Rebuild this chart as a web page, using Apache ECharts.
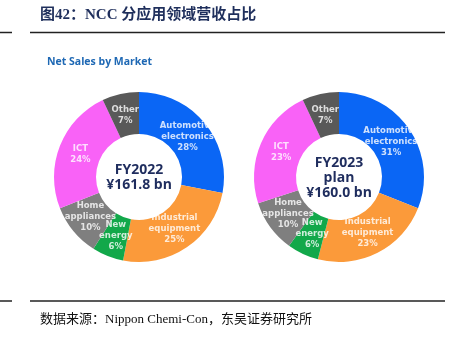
<!DOCTYPE html>
<html><head><meta charset="utf-8">
<script src="https://cdn.jsdelivr.net/npm/echarts@6/dist/echarts.min.js"></script>
<style>html,body{margin:0;padding:0;background:#fff}#c{width:453px;height:337px}</style>
</head><body><div id="c"></div>
<script>
const markets = ['Automotive\nelectronics', 'Industrial\nequipment', 'New\nenergy', 'Home\nappliances', 'ICT', 'Other'];
const fy2022 = [28, 25, 6, 10, 24, 7];
const fy2023 = [31, 23, 6, 10, 23, 7];
const colors = ['#0a66f5', '#fb9a3a', '#12a84a', '#7f7f7f', '#f962f7', '#595959'];
const centers = ['FY2022\n¥161.8 bn', 'FY2023\nplan\n¥160.0 bn'];

function mk(vals) { return markets.map((m, i) => ({ name: m, value: vals[i], itemStyle: { color: colors[i] } })); }
function pie(vals, cx) {
  return {
    type: 'pie', radius: [43, 85], center: [cx, 177], startAngle: 90, clockwise: true,
    silent: true, data: mk(vals), label: { show: false }, labelLine: { show: false }, z: 1
  };
}
// label positions: mid-angle of each slice, mapped through a polar coordinate system
function labels(vals, polarIndex) {
  let acc = 0;
  const total = vals.reduce((a, b) => a + b, 0);
  const data = vals.map((v, i) => {
    const mid = acc + v / 2; acc += v;
    return { name: markets[i], value: [63, mid / total * 100], pct: v };
  });
  return {
    type: 'scatter', coordinateSystem: 'polar', polarIndex, symbolSize: 0, silent: true, z: 5,
    data,
    label: { show: true, position: [0, 0], align: 'center', verticalAlign: 'middle',
      formatter: p => p.name.split('\n').concat([p.data.pct + '%']).map(s => '{t|' + s + '}').join('\n'),
      rich: { t: { color: '#fff', fontSize: 8.5, fontWeight: 'bold', fontFamily: 'DejaVu Sans',
        lineHeight: 11, align: 'center', width: 70 } } }
  };
}
const polar = cx => ({ center: [cx, 177], radius: [0, 85] });
const angleAxis = i => ({ polarIndex: i, type: 'value', min: 0, max: 100, startAngle: 90, clockwise: true, show: false });
const radiusAxis = i => ({ polarIndex: i, type: 'value', min: 0, max: 85, show: false });

const chart = echarts.init(document.getElementById('c'), null, { renderer: 'canvas' });
chart.setOption({
  animation: false,
  polar: [polar(139), polar(339)],
  angleAxis: [angleAxis(0), angleAxis(1)],
  radiusAxis: [radiusAxis(0), radiusAxis(1)],
  series: [pie(fy2022, 139), pie(fy2023, 339), labels(fy2022, 0), labels(fy2023, 1)],
  graphic: [
    { type: 'text', left: 40, top: 8, style: { text: '图42：NCC 分应用领域营收占比', fill: '#1f2f5c', font: 'bold 15px "Liberation Serif", "Noto Sans CJK SC", serif' } },
    { type: 'line', shape: { x1: 0, y1: 32.5, x2: 12, y2: 32.5 }, style: { stroke: '#222', lineWidth: 1.5 } },
    { type: 'line', shape: { x1: 30, y1: 32.5, x2: 445, y2: 32.5 }, style: { stroke: '#222', lineWidth: 1.5 } },
    { type: 'line', shape: { x1: 0, y1: 301, x2: 12, y2: 301 }, style: { stroke: '#222', lineWidth: 1.5 } },
    { type: 'line', shape: { x1: 30, y1: 301, x2: 445, y2: 301 }, style: { stroke: '#222', lineWidth: 1.5 } },
    { type: 'text', left: 47, top: 57, style: { text: 'Net Sales by Market', fill: '#1e68b4', font: 'bold 10.5px "Open Sans", sans-serif' } },
    { type: 'text', x: 139, y: 178, style: { text: centers[0], fill: '#1f2d5e', font: 'bold 14px "Open Sans", sans-serif', align: 'center', verticalAlign: 'middle', lineHeight: 15 } },
    { type: 'text', x: 339, y: 178, style: { text: centers[1], fill: '#1f2d5e', font: 'bold 14px "Open Sans", sans-serif', align: 'center', verticalAlign: 'middle', lineHeight: 15 } },
    { type: 'text', left: 40, top: 313, style: { text: '数据来源：Nippon Chemi-Con，东吴证券研究所', fill: '#111', font: '13px "Liberation Serif", "Noto Sans CJK SC", serif' } }
  ]
});
</script></body></html>
